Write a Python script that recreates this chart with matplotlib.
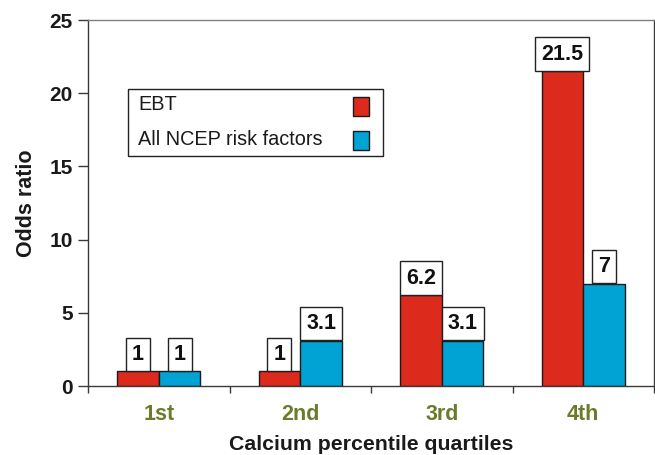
import matplotlib
matplotlib.use("Agg")
import matplotlib.pyplot as plt
from matplotlib.patches import Rectangle
import numpy as np

plt.rcParams['font.family'] = ['Liberation Sans', 'DejaVu Sans']

quartiles = ["1st", "2nd", "3rd", "4th"]
ebt = [1, 1, 6.2, 21.5]
ncep = [1, 3.1, 3.1, 7]
ebt_labels = ["1", "1", "6.2", "21.5"]
ncep_labels = ["1", "3.1", "3.1", "7"]
series_names = ["EBT", "All NCEP risk factors"]
yticks = [0, 5, 10, 15, 20, 25]

red = "#dc2b1d"
blue = "#00a3d3"
olive = "#6b7b2c"
spine_col = "#3a3a3a"

fig = plt.figure(figsize=(6.55, 4.55), dpi=100)
ax = fig.add_axes([88/655, 1-386/455, (654-88)/655, (386-20)/455])

x = np.arange(len(quartiles))
w = 0.295
b1 = ax.bar(x - w, ebt, width=w, align='edge', color=red, edgecolor="#1a1a1a", linewidth=1.0, zorder=2)
b2 = ax.bar(x, ncep, width=w, align='edge', color=blue, edgecolor="#1a1a1a", linewidth=1.0, zorder=2)

LABEL_FS = 15.5
LABEL_PAD = 0.28

def label_bars(bars, labels):
    for rect, txt in zip(bars, labels):
        cx = rect.get_x() + rect.get_width() / 2
        top = rect.get_height()
        ax.annotate(txt, (cx, top), xytext=(0, LABEL_PAD * LABEL_FS + 0.5), textcoords="offset points",
                    ha="center", va="bottom", fontsize=LABEL_FS, fontweight="bold",
                    color="#111111", zorder=4,
                    bbox=dict(boxstyle=f"square,pad={LABEL_PAD}", fc="white", ec="#222222", lw=1.0))

label_bars(b1, ebt_labels)
label_bars(b2, ncep_labels)

ax.set_xlim(-0.5, 3.5)
ax.set_ylim(0, 25)
ax.set_yticks(yticks)
ax.set_yticklabels([str(t) for t in yticks], fontsize=15, fontweight="bold", color="#1a1a1a")
ax.set_xticks(x)
ax.set_xticklabels(quartiles, fontsize=15.5, fontweight="bold", color=olive)
ax.tick_params(axis="x", which="major", length=0, pad=13)
ax.set_xticks([-0.5, 0.5, 1.5, 2.5, 3.5], minor=True)
ax.tick_params(axis="x", which="minor", length=5, width=1.0, color=spine_col, direction="out")
ax.tick_params(axis="y", length=7, width=1.0, color=spine_col, direction="out", pad=4)

for side in ["left", "bottom", "right"]:
    ax.spines[side].set_color(spine_col)
    ax.spines[side].set_linewidth(1.0)
ax.spines["top"].set_color("#808080")
ax.spines["top"].set_linewidth(1.0)

ax.set_ylabel("Odds ratio", fontsize=15.5, fontweight="bold", color="#1a1a1a", labelpad=9)
ax.set_xlabel("Calcium percentile quartiles", fontsize=15.3, fontweight="bold", color="#1a1a1a", labelpad=7)

# legend panel: labels on the left, colour swatches on the right
def fx(px):
    return (px - 88) / (654 - 88)

def fy(py):
    return (386 - py) / (386 - 20)

ax.add_patch(Rectangle((fx(128), fy(156)), fx(383) - fx(128), fy(89) - fy(156),
                       transform=ax.transAxes, fill=False, ec="#222222", lw=1.0, zorder=3))
for name, col, ty, sy0, sy1 in [(series_names[0], red, 110, 116, 97),
                                (series_names[1], blue, 145, 150, 131)]:
    ax.text(fx(138), fy(ty), name, transform=ax.transAxes, fontsize=14.3,
            va="baseline", ha="left", color="#1a1a1a", zorder=3)
    ax.add_patch(Rectangle((fx(353), fy(sy0)), fx(369) - fx(353), fy(sy1) - fy(sy0),
                           transform=ax.transAxes, fc=col, ec="#1a1a1a", lw=1.0, zorder=3))

fig.savefig("out.png", dpi=100)
